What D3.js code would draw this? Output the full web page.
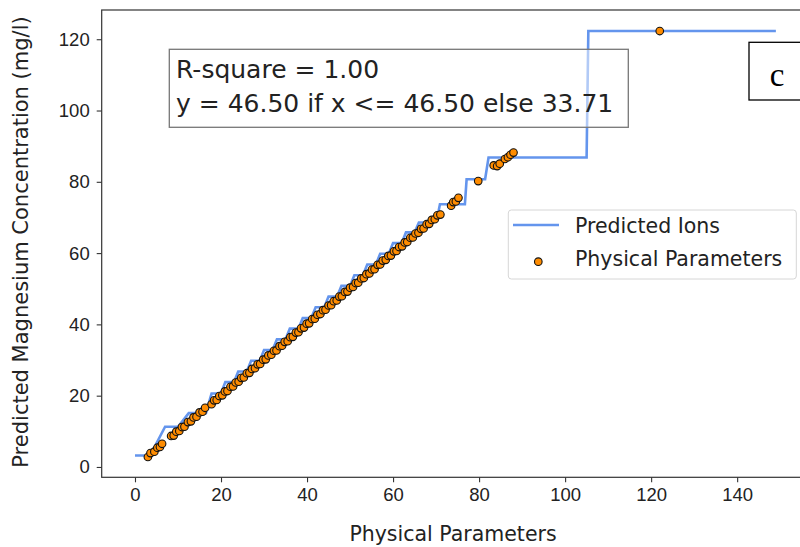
<!DOCTYPE html>
<html lang="en">
<head>
  <meta charset="utf-8" />
  <title>Predicted Magnesium Concentration</title>
  <style>
    body { margin: 0; background: #fff; }
    svg { display: block; font-family: "DejaVu Sans", sans-serif; }
  </style>
</head>
<body>
  <svg width="800" height="547"></svg>

  <script src="https://d3js.org/d3.v7.min.js"></script>
  <script>
    // scatter points (Physical Parameters)
    const pointX = [3, 3.6, 4.5, 5.2, 5.8, 6.3, 8.4, 9, 9.6, 10.3,
      10.9, 11.5, 12.3, 13, 13.6, 14.3, 15, 15.7, 16.3, 17.8,
      18.4, 19, 19.6, 20.3, 20.9, 21.5, 22.2, 22.8, 23.4, 24.1,
      24.7, 25.3, 26, 26.6, 27.2, 27.9, 28.5, 29.1, 29.8, 30.4,
      31, 31.7, 32.3, 32.9, 33.6, 34.2, 34.8, 35.5, 36.1, 36.7,
      37.4, 38, 38.6, 39.3, 39.9, 40.5, 41.2, 41.8, 42.4, 43.1,
      43.7, 44.3, 45, 45.6, 46.2, 46.9, 47.5, 48.1, 48.8, 49.4,
      50, 50.7, 51.3, 51.9, 52.6, 53.2, 53.8, 54.5, 55.1, 55.7,
      56.4, 57, 57.6, 58.3, 58.9, 59.5, 60.2, 60.8, 61.4, 62.1,
      62.7, 63.3, 64, 64.6, 65.2, 65.9, 66.5, 67.1, 67.8, 68.4,
      69, 69.7, 70.3, 71, 73.5, 74, 74.6, 75.2, 79.8, 83.4,
      84.2, 84.8, 86, 86.7, 87.3, 88, 122];
    const pointY = [2.8, 3.9, 4.3, 5.4, 5.6, 6.5, 8.7, 8.8, 9.9, 10.1,
      11.2, 11.3, 12.6, 12.8, 13.9, 14.1, 15.3, 15.5, 16.6, 17.6,
      18.7, 18.8, 19.9, 20.1, 21.2, 21.3, 22.5, 22.6, 23.7, 23.9,
      25.0, 25.1, 26.3, 26.4, 27.5, 27.7, 28.8, 28.9, 30.1, 30.2,
      31.3, 31.5, 32.6, 32.7, 33.9, 34.0, 35.1, 35.3, 36.4, 36.5,
      37.7, 37.8, 38.9, 39.1, 40.2, 40.3, 41.5, 41.6, 42.7, 42.9,
      44.0, 44.1, 45.3, 45.4, 46.5, 46.7, 47.8, 47.9, 49.1, 49.2,
      50.3, 50.5, 51.6, 51.7, 52.9, 53.0, 54.1, 54.3, 55.4, 55.5,
      56.7, 56.8, 57.9, 58.1, 59.2, 59.3, 60.5, 60.6, 61.7, 61.9,
      63.0, 63.1, 64.3, 64.4, 65.5, 65.7, 66.8, 66.9, 68.1, 68.2,
      69.3, 69.5, 70.6, 70.8, 73.3, 74.3, 74.5, 75.5, 80.2, 84.6,
      84.4, 85.1, 86.4, 86.9, 87.6, 88.2, 122.3];

    // fitted prediction line (Predicted Ions), vertices
    const lineX = [0, 3.5, 7, 10, 12.5, 16.5, 17.8, 20, 21, 23, 24, 26, 27, 29, 30, 32, 33, 35, 36, 38,
      39, 41, 42, 44, 45, 47, 48, 50, 51, 53, 54, 56, 57, 59, 60, 62, 63, 65, 66, 68,
      68.8, 70.2, 70.9, 76.7, 77.1, 81.4, 82.2, 105, 105.4, 149];
    const lineY = [3.2, 3.2, 11.3, 11.3, 15.1, 15.1, 20.6, 20.6, 23.8, 23.8, 26.8, 26.8, 29.8, 29.8, 32.8, 32.8, 35.8, 35.8, 38.8, 38.8,
      41.8, 41.8, 44.8, 44.8, 47.8, 47.8, 50.8, 50.8, 53.8, 53.8, 56.8, 56.8, 59.8, 59.8, 62.8, 62.8, 65.8, 65.8, 68.6, 68.6,
      69.5, 69.5, 73.7, 73.7, 80.7, 80.7, 86.8, 86.8, 122.3, 122.3];

    const xTicks = [0, 20, 40, 60, 80, 100, 120, 140];
    const yTicks = [0, 20, 40, 60, 80, 100, 120];
    const boxLines = ["R-square = 1.00", "y = 46.50 if x <= 46.50 else 33.71"];
    const legendLabels = ["Predicted Ions", "Physical Parameters"];

    const plot = {left: 101.7, right: 807.7, top: 10, bottom: 477.3};

    const x = d3.scaleLinear().domain([-7.74, 156.4]).range([plot.left, plot.right]);
    const y = d3.scaleLinear().domain([-2.9, 128.2]).range([plot.bottom, plot.top]);

    const svg = d3.select("svg");

    // plot content
    const line = d3.line().x((d, i) => x(lineX[i])).y((d, i) => y(lineY[i]));
    svg.append("path")
      .datum(lineX)
      .attr("fill", "none")
      .attr("stroke", "#6495ed")
      .attr("stroke-width", 2.6)
      .attr("d", line);

    svg.append("g").selectAll("circle")
      .data(pointX)
      .join("circle")
      .attr("cx", d => x(d))
      .attr("cy", (d, i) => y(pointY[i]))
      .attr("r", 3.8)
      .attr("fill", "#ff8c00")
      .attr("stroke", "#111")
      .attr("stroke-width", 1.1);

    // axes
    const xAxis = svg.append("g")
      .attr("transform", `translate(0,${plot.bottom})`)
      .call(d3.axisBottom(x).tickValues(xTicks).tickSize(5).tickPadding(6).tickFormat(d3.format("d")));
    const yAxis = svg.append("g")
      .attr("transform", `translate(${plot.left},0)`)
      .call(d3.axisLeft(y).tickValues(yTicks).tickSize(5).tickPadding(7).tickFormat(d3.format("d")));
    [xAxis, yAxis].forEach(a => {
      a.select(".domain").remove();
      a.selectAll("line").attr("stroke", "#333").attr("stroke-width", 1.1);
      a.selectAll("text").attr("fill", "#222").style("font-size", "18.5px");
    });

    svg.append("rect")
      .attr("x", plot.left).attr("y", plot.top)
      .attr("width", plot.right - plot.left).attr("height", plot.bottom - plot.top)
      .attr("fill", "none").attr("stroke", "#333").attr("stroke-width", 1.2);

    svg.append("text")
      .attr("x", 453).attr("y", 541)
      .attr("text-anchor", "middle")
      .attr("fill", "#222")
      .style("font-size", "20.5px")
      .text("Physical Parameters");

    svg.append("text")
      .attr("transform", "translate(28,242) rotate(-90)")
      .attr("text-anchor", "middle")
      .attr("fill", "#222")
      .style("font-size", "21px")
      .text("Predicted Magnesium Concentration (mg/l)");

    // annotation box
    const note = svg.append("g");
    note.append("rect")
      .attr("x", 169.3).attr("y", 49.3).attr("width", 459).attr("height", 78)
      .attr("fill", "#fff").attr("fill-opacity", 0.5)
      .attr("stroke", "#777").attr("stroke-width", 1.3);
    note.selectAll("text")
      .data(boxLines)
      .join("text")
      .attr("x", 176)
      .attr("y", (d, i) => 78 + i * 34.4)
      .attr("fill", "#222")
      .style("font-size", "25px")
      .text(d => d);

    // legend
    const lg = svg.append("g");
    lg.append("rect")
      .attr("x", 508.3).attr("y", 210).attr("width", 288).attr("height", 69)
      .attr("rx", 3)
      .attr("fill", "#fff").attr("fill-opacity", 0.8)
      .attr("stroke", "#d6d6d6").attr("stroke-width", 1);
    lg.append("line")
      .attr("x1", 513).attr("x2", 559).attr("y1", 225).attr("y2", 225)
      .attr("stroke", "#6495ed").attr("stroke-width", 2.6);
    lg.append("circle")
      .attr("cx", 538.3).attr("cy", 261.7).attr("r", 3.8)
      .attr("fill", "#ff8c00").attr("stroke", "#111").attr("stroke-width", 1.1);
    lg.selectAll("text")
      .data(legendLabels)
      .join("text")
      .attr("x", 575)
      .attr("y", (d, i) => 233 + i * 33)
      .attr("fill", "#222")
      .style("font-size", "20.5px")
      .text(d => d);

    // panel label
    svg.append("rect")
      .attr("x", 749).attr("y", 42.3).attr("width", 70).attr("height", 57.7)
      .attr("fill", "#fff").attr("stroke", "#000").attr("stroke-width", 1.3);
    svg.append("text")
      .attr("x", 777).attr("y", 86)
      .attr("text-anchor", "middle")
      .attr("fill", "#000")
      .style("font-family", "'Liberation Serif', serif")
      .style("font-size", "33px")
      .text("c");
  </script>
</body>
</html>
